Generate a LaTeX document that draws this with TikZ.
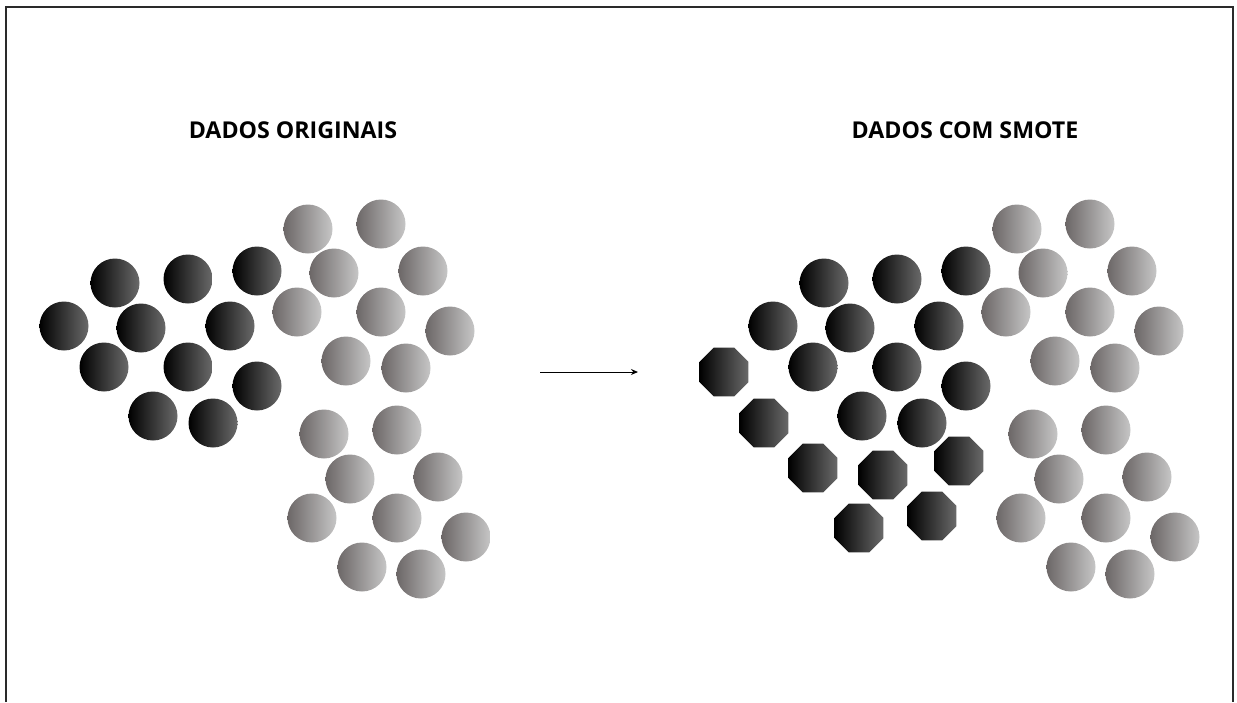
\documentclass[tikz,border=0pt]{standalone}
\usepackage{fontspec}
\setsansfont{Open Sans}
\usetikzlibrary{arrows.meta,shapes.geometric}
\definecolor{Frame}{HTML}{2A2A2A}
\definecolor{DarkLeft}{HTML}{000000}
\definecolor{DarkRight}{HTML}{6A6A6A}
\definecolor{LightLeft}{HTML}{6C6767}
\definecolor{LightRight}{HTML}{C6C6C6}

\begin{document}
\begin{tikzpicture}[x=0.5pt,y=-0.5pt,
  dark/.style={circle,minimum size=24.5pt,inner sep=0pt,left color=DarkLeft,right color=DarkRight},
  light/.style={circle,minimum size=24.5pt,inner sep=0pt,left color=LightLeft,right color=LightRight},
  synth/.style={regular polygon,regular polygon sides=8,minimum size=26.5pt,inner sep=0pt,left color=DarkLeft,right color=DarkRight},
  title/.style={font=\sffamily\bfseries\fontsize{11.6}{13}\selectfont}]
\useasboundingbox (0,0) rectangle (1237,702);
\draw[Frame,line width=0.6pt] (6,702) -- (6,7) -- (1233,7) -- (1233,702);
% titles
\node[title] (tleft) at (293,130) {DADOS ORIGINAIS};
\node[title] (tright) at (965,130) {DADOS COM SMOTE};
% original data, minority class
\node[dark] (a1) at (115,283) {};
\node[dark] (a2) at (188,279) {};
\node[dark] (a3) at (257,271) {};
\node[dark] (a4) at (64,326) {};
\node[dark] (a5) at (141,328) {};
\node[dark] (a6) at (230,326) {};
\node[dark] (a7) at (104,367) {};
\node[dark] (a8) at (188,367) {};
\node[dark] (a9) at (257,386) {};
\node[dark] (a10) at (153,416) {};
\node[dark] (a11) at (213,423) {};
% original data, majority class
\node[light] (b1) at (308,229) {};
\node[light] (b2) at (381,224) {};
\node[light] (b3) at (334,273) {};
\node[light] (b4) at (423,271) {};
\node[light] (b5) at (297,312) {};
\node[light] (b6) at (381,312) {};
\node[light] (b7) at (450,331) {};
\node[light] (b8) at (346,361) {};
\node[light] (b9) at (406,368) {};
\node[light] (b10) at (324,434) {};
\node[light] (b11) at (397,430) {};
\node[light] (b12) at (350,479) {};
\node[light] (b13) at (438,477) {};
\node[light] (b14) at (312,518) {};
\node[light] (b15) at (397,518) {};
\node[light] (b16) at (466,537) {};
\node[light] (b17) at (362,567) {};
\node[light] (b18) at (421,574) {};
% arrow
\coordinate (arrowstart) at (540,372);
\coordinate (arrowend) at (638,372);
\draw[-{Stealth[length=3.5pt,width=3pt]},line width=0.5pt] (arrowstart) -- (arrowend);
% smote data, minority class
\node[dark] (c1) at (824,283) {};
\node[dark] (c2) at (897,279) {};
\node[dark] (c3) at (966,271) {};
\node[dark] (c4) at (773,326) {};
\node[dark] (c5) at (850,328) {};
\node[dark] (c6) at (939,326) {};
\node[dark] (c7) at (813,367) {};
\node[dark] (c8) at (897,367) {};
\node[dark] (c9) at (966,386) {};
\node[dark] (c10) at (862,416) {};
\node[dark] (c11) at (922,423) {};
% smote data, synthetic samples
\node[synth] (s1) at (724,372) {};
\node[synth] (s2) at (764,423) {};
\node[synth] (s3) at (813,468) {};
\node[synth] (s4) at (883,475) {};
\node[synth] (s5) at (959,461) {};
\node[synth] (s6) at (859,528) {};
\node[synth] (s7) at (932,516) {};
% smote data, majority class
\node[light] (d1) at (1017,229) {};
\node[light] (d2) at (1090,224) {};
\node[light] (d3) at (1043,273) {};
\node[light] (d4) at (1132,271) {};
\node[light] (d5) at (1006,312) {};
\node[light] (d6) at (1090,312) {};
\node[light] (d7) at (1159,331) {};
\node[light] (d8) at (1055,361) {};
\node[light] (d9) at (1115,368) {};
\node[light] (d10) at (1033,434) {};
\node[light] (d11) at (1106,430) {};
\node[light] (d12) at (1059,479) {};
\node[light] (d13) at (1147,477) {};
\node[light] (d14) at (1021,518) {};
\node[light] (d15) at (1106,518) {};
\node[light] (d16) at (1175,537) {};
\node[light] (d17) at (1071,567) {};
\node[light] (d18) at (1130,574) {};
\end{tikzpicture}
\end{document}
